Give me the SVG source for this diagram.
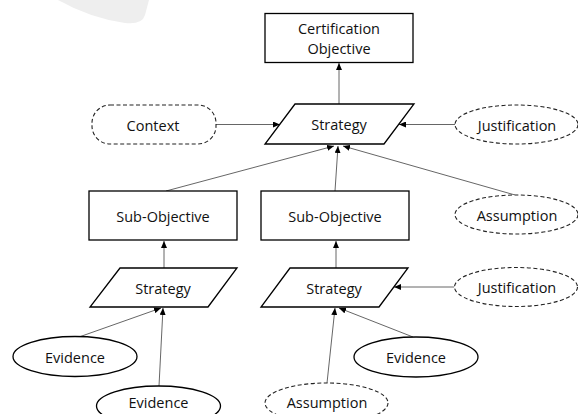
<svg xmlns="http://www.w3.org/2000/svg" width="578" height="414" viewBox="0 0 578 414">
  <style>
    .shape { fill: #ffffff; stroke: #000000; stroke-width: 1.3; }
    .dashed { fill: #ffffff; stroke: #222222; stroke-width: 1.1; stroke-dasharray: 4 2.5; }
    .label { font-family: "Open Sans", "Liberation Sans", Arial, sans-serif; font-size: 14.5px; fill: #111111; text-anchor: middle; dominant-baseline: central; }
    .link { stroke: #555555; stroke-width: 0.9; fill: none; marker-end: url(#arrow); }
  </style>
  <defs>
    <marker id="arrow" markerUnits="userSpaceOnUse" markerWidth="7" markerHeight="6" refX="7" refY="3" orient="auto">
      <path d="M0,0 L7,3 L0,6 Z" fill="#000000"/>
    </marker>
  </defs>

  <rect width="578" height="414" fill="#ffffff"/>
  <!-- pale backdrop shape in the top-left corner -->
  <path d="M58 0 Q90 18 125 23 Q142 25 145 15 L149 0 Z" fill="#eeeeee"/>

  <g id="connectors">
    <line class="link" x1="339" y1="104" x2="339" y2="63"/>
    <line class="link" x1="216" y1="124.5" x2="280" y2="124.5"/>
    <line class="link" x1="455" y1="124.5" x2="399" y2="124.5"/>
    <line class="link" x1="166" y1="191" x2="334" y2="146"/>
    <line class="link" x1="335" y1="191" x2="338" y2="146"/>
    <line class="link" x1="515" y1="195" x2="343" y2="146"/>
    <line class="link" x1="164" y1="268" x2="164" y2="241"/>
    <line class="link" x1="336" y1="268" x2="336" y2="241"/>
    <line class="link" x1="79" y1="337" x2="161" y2="308"/>
    <line class="link" x1="159" y1="386" x2="163" y2="308"/>
    <line class="link" x1="454" y1="287" x2="394" y2="287"/>
    <line class="link" x1="327" y1="383" x2="335" y2="308"/>
    <line class="link" x1="413" y1="337" x2="339" y2="308"/>
  </g>

  <g id="certification-objective">
    <rect class="shape" x="265" y="13.5" width="148" height="49"/>
    <text class="label" x="339" y="28.5">Certification</text>
    <text class="label" x="339" y="48.5">Objective</text>
  </g>

  <g id="strategy-top">
    <polygon class="shape" points="295,104 414,104 384,144 265,144"/>
    <text class="label" x="339" y="124">Strategy</text>
  </g>

  <g id="context">
    <rect class="dashed" x="92" y="105" width="124" height="39" rx="18" ry="18"/>
    <text class="label" x="153" y="125">Context</text>
  </g>

  <g id="justification-top">
    <ellipse class="dashed" cx="516.5" cy="124.5" rx="61.5" ry="19.5"/>
    <text class="label" x="517" y="125">Justification</text>
  </g>

  <g id="sub-objective-left">
    <rect class="shape" x="89" y="191" width="148" height="49"/>
    <text class="label" x="163" y="216">Sub-Objective</text>
  </g>

  <g id="sub-objective-right">
    <rect class="shape" x="261" y="191" width="148" height="49"/>
    <text class="label" x="335" y="216">Sub-Objective</text>
  </g>

  <g id="assumption-top">
    <ellipse class="dashed" cx="516.5" cy="214.5" rx="61.5" ry="19.5"/>
    <text class="label" x="517" y="215">Assumption</text>
  </g>

  <g id="strategy-left">
    <polygon class="shape" points="120,268 237,268 208,307 90,307"/>
    <text class="label" x="163" y="288">Strategy</text>
  </g>

  <g id="strategy-right">
    <polygon class="shape" points="290,268 408,268 379,307 261,307"/>
    <text class="label" x="334" y="288">Strategy</text>
  </g>

  <g id="justification-bottom">
    <ellipse class="dashed" cx="516" cy="287" rx="61.5" ry="19.5"/>
    <text class="label" x="517" y="287.5">Justification</text>
  </g>

  <g id="evidence-left">
    <ellipse class="shape" cx="75" cy="356.5" rx="62" ry="20"/>
    <text class="label" x="75" y="357">Evidence</text>
  </g>

  <g id="evidence-lower">
    <ellipse class="shape" cx="158.5" cy="406" rx="62" ry="20"/>
    <text class="label" x="158.5" y="402">Evidence</text>
  </g>

  <g id="assumption-bottom">
    <ellipse class="dashed" cx="326.5" cy="403" rx="61.5" ry="20"/>
    <text class="label" x="327" y="402">Assumption</text>
  </g>

  <g id="evidence-right">
    <ellipse class="shape" cx="416" cy="357" rx="62" ry="20"/>
    <text class="label" x="416" y="357">Evidence</text>
  </g>
</svg>
